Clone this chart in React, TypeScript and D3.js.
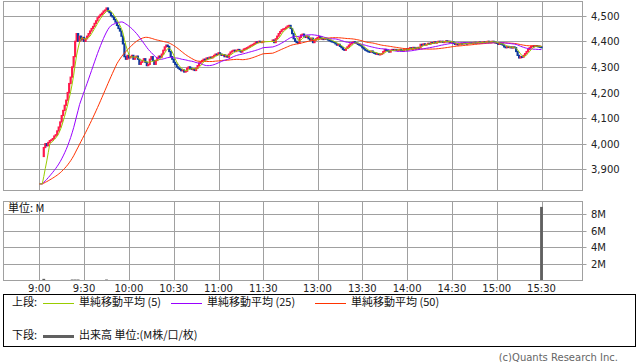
import React from "react";
import * as d3 from "d3";

// ---- data ----
const prevClose = 3843; // previous session close, MA seed
const firstOpen = 3950;
const morningStart = "9:03";
const morningCloses = [
  3985, 4000, 3992, 4005, 4012, 4015, 4020, 4030, 4035, 4050,
  4065, 4085, 4110, 4130, 4150, 4170, 4200, 4235, 4260, 4300,
  4340, 4400, 4430, 4400, 4420, 4405, 4415, 4400, 4410, 4420,
  4430, 4440, 4450, 4458, 4470, 4480, 4492, 4498, 4505, 4510,
  4518, 4522, 4530, 4518, 4512, 4500, 4495, 4485, 4475, 4462,
  4450, 4440, 4420, 4390, 4340, 4330, 4345, 4335, 4340, 4345,
  4330, 4338, 4342, 4330, 4310, 4318, 4325, 4332, 4318, 4305,
  4310, 4330, 4340, 4325, 4310, 4325, 4335, 4342, 4338, 4350,
  4365, 4378, 4385, 4380, 4360, 4340, 4330, 4318, 4310, 4300,
  4295, 4290, 4285, 4288, 4280, 4283, 4295, 4300, 4295, 4290,
  4292, 4286, 4295, 4305, 4315, 4320, 4325, 4330, 4328, 4335,
  4332, 4338, 4335, 4340, 4345, 4350, 4348, 4355, 4350, 4345,
  4348, 4340, 4345, 4338, 4350, 4358, 4362, 4365, 4360, 4365,
  4368, 4362, 4358, 4365, 4370, 4372, 4375, 4378, 4382, 4385,
  4388, 4392, 4398, 4395, 4400, 4396, 4398, 4400,
];
const afternoonStart = "12:30";
const afternoonCloses = [
  4405, 4395, 4410, 4420, 4430, 4438, 4445, 4448, 4450, 4455,
  4460, 4462, 4450, 4430, 4410, 4400, 4395, 4392, 4415, 4425,
  4428, 4420, 4415, 4420, 4410, 4405, 4412, 4395, 4405, 4410,
  4415, 4418, 4412, 4410, 4408, 4412, 4410, 4405, 4402, 4400,
  4398, 4395, 4390, 4385, 4388, 4380, 4375, 4368, 4365, 4372,
  4378, 4385, 4390, 4395, 4398, 4395, 4392, 4388, 4385, 4382,
  4375, 4370, 4365, 4362, 4360, 4358, 4362, 4356, 4355, 4350,
  4352, 4348, 4350, 4352, 4360, 4368, 4365, 4362, 4358, 4365,
  4368, 4365, 4368, 4364, 4366, 4368, 4365, 4362, 4368, 4370,
  4366, 4372, 4375, 4370, 4376, 4374, 4373, 4376, 4375, 4388,
  4385, 4390, 4386, 4388, 4392, 4390, 4395, 4392, 4398, 4394,
  4396, 4400, 4398, 4400, 4396, 4398, 4402, 4398, 4400, 4396,
  4398, 4392, 4388, 4390, 4386, 4390, 4392, 4390, 4394, 4392,
  4390, 4393, 4395, 4392, 4394, 4396, 4393, 4395, 4397, 4394,
  4396, 4398, 4395, 4398, 4400, 4396, 4398, 4400, 4397, 4395,
  4392, 4388, 4392, 4390, 4385, 4378, 4375, 4380, 4376, 4378,
  4374, 4378, 4375, 4360, 4345, 4335, 4340, 4338, 4345, 4352,
  4360, 4368, 4375, 4380, 4382, 4380, 4383, 4381, 4380, 4378,
  4375,
];
const volTimes = ["9:03", "9:22", "9:24", "9:26", "9:45", "15:30"];
const volValues = [0.2, 0.12, 0.12, 0.12, 0.12, 8.85]; // millions
const timeTicks = ["9:00", "9:30", "10:00", "10:30", "11:00", "11:30", "13:00", "13:30", "14:00", "14:30", "15:00", "15:30"];
const priceTicks = [3900, 4000, 4100, 4200, 4300, 4400, 4500];
const volTicks = [2, 4, 6, 8];
const maPeriods = [5, 25, 50];
const maColors = ["#99cc00", "#9900ff", "#ff3300"];
const maLabels = ["単純移動平均 (5)", "単純移動平均 (25)", "単純移動平均 (50)"];

const toMin = (s: string) => {
  const [h, m] = s.split(":").map(Number);
  return h * 60 + m;
};

const W = 638, H = 362;
const L = 3.5, R = 582.5;
const pTop = 1.5, pBot = 190.5;
const vTop = 201.5, vBot = 280.5;

export default function App() {
  const x = d3.scaleLinear().domain([540, 690, 750, 930]).range([39.3, 263.3, 272.7, 541.5]);
  const y = d3.scaleLinear().domain([3900, 4500]).range([169.3, 15.7]);
  const yv = d3.scaleLinear().domain([0, 9.5]).range([vBot, vTop]);

  const ms = toMin(morningStart);
  const as = toMin(afternoonStart);
  const bars = [
    ...morningCloses.map((c, i) => ({ t: ms + i, c })),
    ...afternoonCloses.map((c, i) => ({ t: as + i, c })),
  ].map((b, i, arr) => ({ ...b, o: i === 0 ? firstOpen : arr[i - 1].c }));

  // MA timeline: pre-open slots seeded with previous close
  const pre: { t: number; c: number }[] = [];
  for (let t = 540; t < ms; t++) pre.push({ t, c: prevClose });
  const timeline = [...pre, ...bars.map((b) => ({ t: b.t, c: b.c }))];
  const hist = new Array(60).fill(prevClose);
  const allVals = [...hist, ...timeline.map((d) => d.c)];
  const maSeries = maPeriods.map((n) =>
    timeline.map((d, i) => {
      const j = i + hist.length;
      const win = allVals.slice(j - n + 1, j + 1);
      return { t: d.t, v: d3.mean(win) as number };
    })
  );
  const line = d3
    .line<{ t: number; v: number }>()
    .x((d) => x(d.t))
    .y((d) => y(d.v));

  const gridX = timeTicks.map((s) => Math.round(x(toMin(s))) + 0.5);
  const grid = "#a0a0a0";
  const fmt = d3.format(",");
  const axisFont = "DejaVu Sans, sans-serif";
  const jpFont = "Noto Sans CJK JP, sans-serif";

  return (
    <svg width={W} height={H} style={{ position: "absolute", left: 0, top: 0, background: "#fff" }}>
      <defs>
        <clipPath id="pclip">
          <rect x={L} y={pTop} width={R - L} height={pBot - pTop} />
        </clipPath>
      </defs>
      {/* price panel grid */}
      {gridX.map((gx, i) => (
        <line key={"vx" + i} x1={gx} x2={gx} y1={pTop} y2={pBot} stroke={grid} />
      ))}
      {priceTicks.map((p) => {
        const gy = Math.round(y(p)) + 0.5;
        return (
          <g key={"pt" + p}>
            <line x1={L} x2={R} y1={gy} y2={gy} stroke={grid} />
            <line x1={R} x2={R + 4} y1={gy} y2={gy} stroke={grid} />
            <text x={591} y={gy} dominantBaseline="middle" fontFamily={axisFont} fontSize={10} fill="#222">
              {fmt(p)}
            </text>
          </g>
        );
      })}
      <rect x={L} y={pTop} width={R - L} height={pBot - pTop} fill="none" stroke={grid} />

      <g clipPath="url(#pclip)">
        {bars.map((b, i) => {
          const up = b.c >= b.o;
          const y1 = y(Math.max(b.o, b.c));
          const y2 = y(Math.min(b.o, b.c));
          return (
            <rect
              key={"c" + i}
              x={x(b.t) - 1.1}
              width={2.2}
              y={y1 - 0.6}
              height={Math.max(2, y2 - y1 + 1.2)}
              fill={up ? "#ff1a4b" : "#0d3a9e"}
            />
          );
        })}
        {maSeries
          .map((s, k) => (
            <path key={"ma" + k} d={line(s) || ""} fill="none" stroke={maColors[k]} strokeWidth={1} />
          ))
          .reverse()}
      </g>

      {/* volume panel */}
      {gridX.map((gx, i) => (
        <line key={"vvx" + i} x1={gx} x2={gx} y1={vTop} y2={vBot} stroke={grid} />
      ))}
      {volTicks.map((v) => {
        const gy = Math.round(yv(v)) + 0.5;
        return (
          <g key={"vt" + v}>
            <line x1={L} x2={R} y1={gy} y2={gy} stroke={grid} />
            <line x1={R} x2={R + 4} y1={gy} y2={gy} stroke={grid} />
            <text x={591} y={gy} dominantBaseline="middle" fontFamily={axisFont} fontSize={10} fill="#222">
              {v + "M"}
            </text>
          </g>
        );
      })}
      {volTimes.map((s, i) => {
        const vx = x(toMin(s));
        const top = yv(volValues[i]);
        return (
          <rect key={"vb" + i} x={vx - 1.4} width={2.8} y={top} height={vBot - top} fill="#606060" />
        );
      })}
      <rect x={L} y={vTop} width={R - L} height={vBot - vTop} fill="none" stroke={grid} />
      <text x={8} y={209.5} dominantBaseline="middle" fontFamily={jpFont} fontSize={11} fill="#111">
        単位: M
      </text>

      {/* x labels */}
      {timeTicks.map((s, i) => (
        <text
          key={"xl" + i}
          x={x(toMin(s))}
          y={288.5}
          textAnchor="middle"
          dominantBaseline="middle"
          fontFamily={axisFont}
          fontSize={10}
          fill="#222"
        >
          {s}
        </text>
      ))}

      {/* legend */}
      <rect x={3.5} y={294.5} width={632} height={52} fill="#fff" stroke="#000" />
      <text x={12} y={303.5} dominantBaseline="middle" fontFamily={jpFont} fontSize={11} fill="#111">
        上段:
      </text>
      {[43, 171, 315].map((lx, k) => (
        <g key={"lg" + k}>
          <line x1={lx} x2={lx + 31} y1={303.5} y2={303.5} stroke={maColors[k]} strokeWidth={1} />
          <text x={lx + 36} y={303.5} dominantBaseline="middle" fontFamily={jpFont} fontSize={11} fill="#111">
            {maLabels[k]}
          </text>
        </g>
      ))}
      <text x={12} y={336.5} dominantBaseline="middle" fontFamily={jpFont} fontSize={11} fill="#111">
        下段:
      </text>
      <line x1={43} x2={74} y1={336.5} y2={336.5} stroke="#606060" strokeWidth={3} />
      <text x={79} y={336.5} dominantBaseline="middle" fontFamily={jpFont} fontSize={11} fill="#111">
        出来高 単位:(M株/口/枚)
      </text>

      <text x={618} y={357.5} textAnchor="end" dominantBaseline="middle" fontFamily={axisFont} fontSize={10} fill="#666">
        (c)Quants Research Inc.
      </text>
    </svg>
  );
}
